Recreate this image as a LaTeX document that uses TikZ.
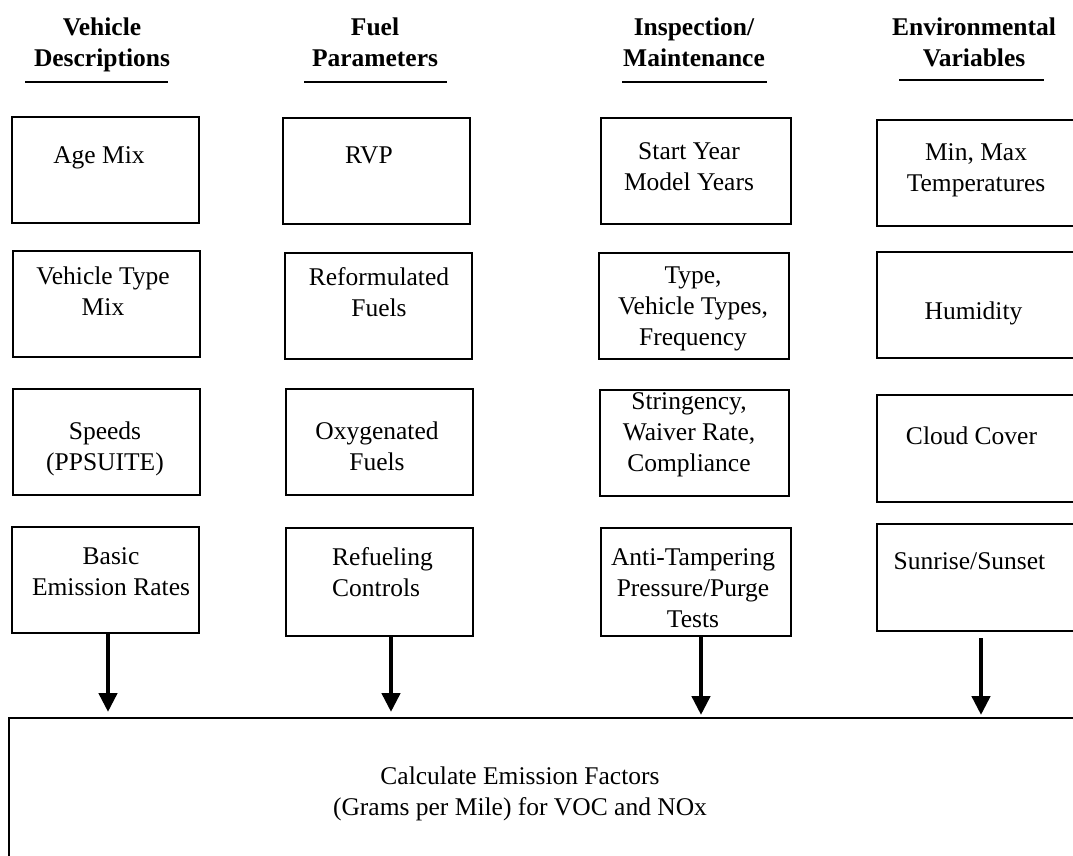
\documentclass[tikz,border=0pt]{standalone}
\usepackage{fontspec}
\setmainfont{Liberation Serif}
\usepackage{tikz}
\usetikzlibrary{arrows.meta, positioning}

\begin{document}
\begin{tikzpicture}[x=1pt, y=-1pt,
    box/.style={draw, line width=2pt, minimum width=187pt, minimum height=106pt, inner sep=0pt},
    lbl/.style={anchor=north, align=center, inner sep=0pt, yshift=-4pt, font=\fontsize{25.5}{31}\selectfont, execute at begin node=\strut},
    head/.style={lbl, font=\fontsize{25.5}{31}\selectfont\bfseries},
    rule/.style={line width=2pt},
    flow/.style={-{Triangle[length=19pt, width=18pt]}, line width=4.5pt}]
    \clip (0,0) rectangle (1073,855);

    % column headings
    \node[head] (hveh) at (102,14) {Vehicle\\Descriptions};
    \node[head] (hfuel) at (375,14) {Fuel\\Parameters};
    \node[head] (him) at (694,14) {Inspection/\\Maintenance};
    \node[head] (henv) at (974,14) {Environmental\\Variables};
    \draw[rule] (25,82) -- (168,82);
    \draw[rule] (304,82) -- (447,82);
    \draw[rule] (622,82) -- (767,82);
    \draw[rule] (899,80) -- (1044,80);

    % vehicle descriptions
    \node[box] (age) at (105,170) {};
    \node[box] (vtype) at (106.5,303.5) {};
    \node[box] (speeds) at (106.5,441.5) {};
    \node[box] (ber) at (105.5,580) {};
    \node[lbl] (age-t) at (99,138) {Age Mix};
    \node[lbl] (vtype-t) at (103,263) {Vehicle Type\\Mix};
    \node[lbl] (speeds-t) at (105,418) {Speeds\\(PPSUITE)};
    \node[lbl] (ber-t) at (111,543) {Basic\\Emission Rates};

    % fuel parameters
    \node[box] (rvp) at (376.5,171) {};
    \node[box] (rfg) at (378.5,306) {};
    \node[box] (oxy) at (379.5,441.5) {};
    \node[box, minimum height=108pt] (refuel) at (379.5,582) {};
    \node[lbl] (rvp-t) at (369,138) {RVP};
    \node[lbl] (rfg-t) at (379,263) {Reformulated\\Fuels};
    \node[lbl] (oxy-t) at (377,418) {Oxygenated\\Fuels};
    \node[lbl, anchor=north west, align=left] (refuel-t) at (332,543) {Refueling\\Controls};

    % inspection / maintenance
    \node[box, minimum width=190pt] (start) at (696,171) {};
    \node[box, minimum width=190pt] (types) at (694,306) {};
    \node[box, minimum width=189pt] (string) at (694.5,442.5) {};
    \node[box, minimum width=190pt, minimum height=108pt] (antitamp) at (696,582) {};
    \node[lbl] (start-t) at (689,138) {Start Year\\Model Years};
    \node[lbl] (types-t) at (693,263) {Type,\\Vehicle Types,\\Frequency};
    \node[lbl] (string-t) at (689,388) {Stringency,\\Waiver Rate,\\Compliance};
    \node[lbl] (antitamp-t) at (693,544) {Anti-Tampering\\Pressure/Purge\\Tests};

    % environmental variables
    \node[box, minimum width=213pt] (temp) at (983.5,173) {};
    \node[box, minimum width=213pt] (humid) at (983.5,305) {};
    \node[box, minimum width=213pt, minimum height=107pt] (cloud) at (983.5,448.5) {};
    \node[box, minimum width=213pt, minimum height=107pt] (sun) at (983.5,577.5) {};
    \node[lbl] (temp-t) at (976,139) {Min, Max\\Temperatures};
    \node[lbl] (humid-t) at (973.5,294) {Humidity};
    \node[lbl] (cloud-t) at (971.5,419) {Cloud Cover};
    \node[lbl] (sun-t) at (969.5,544) {Sunrise/Sunset};

    % result
    \node[box, minimum width=1081pt, minimum height=162pt] (calc) at (549.5,799) {};
    \node[lbl] (calc-t) at (520,763) {Calculate Emission Factors\\(Grams per Mile) for VOC and NOx};

    \coordinate (a1) at (108,712);
    \coordinate (a2) at (391,712);
    \coordinate (a3) at (701,715);
    \coordinate (a4) at (981,715);
    \draw[flow] (ber.south -| a1) -- (a1);
    \draw[flow] (refuel.south -| a2) -- (a2);
    \draw[flow] (antitamp.south -| a3) -- (a3);
    \draw[flow] ([yshift=-6pt]sun.south -| a4) -- (a4);
\end{tikzpicture}
\end{document}
